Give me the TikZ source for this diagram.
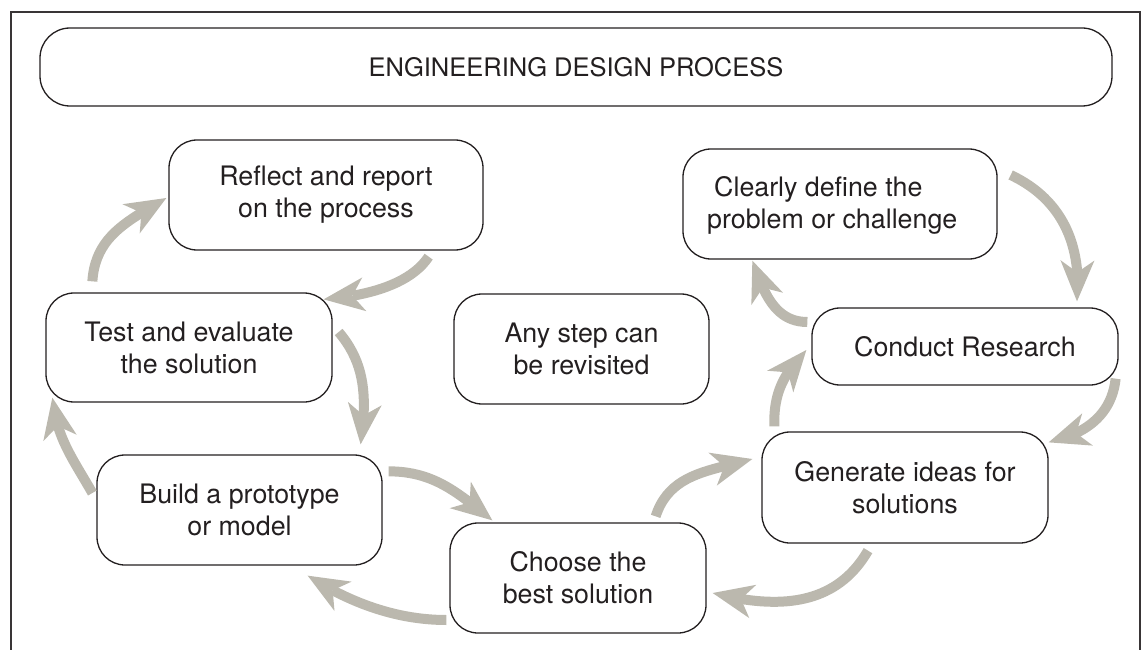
\documentclass[tikz,border=0pt]{standalone}
\usepackage{fontspec}
\setmainfont{TeX Gyre Heros}
\usetikzlibrary{arrows.meta,bending}
\definecolor{flowgray}{RGB}{187,184,174}
\definecolor{ink}{RGB}{35,31,32}
\begin{document}
\begin{tikzpicture}[x=1pt,y=-1pt,
  box/.style={draw=ink, line width=1.3pt, rounded corners=28pt, inner sep=0pt,
    align=center, text=ink, font=\fontsize{26.8}{32}\selectfont},
  txt/.style={inner sep=0pt, text=ink, font=\fontsize{26.8}{32}\selectfont},
  flow/.style={draw=flowgray, line width=10pt,
    -{Stealth[length=41pt,width=34pt,inset=12pt,line width=0pt]}}]
\useasboundingbox (0,0) rectangle (1144,650);
\draw[line width=2.6pt, draw=ink!90] (11,650) -- (11,12) -- (1140,12) -- (1140,650);

\node[box, minimum width=1072pt, minimum height=78pt, rounded corners=30pt, font=\fontsize{25.5}{30}\selectfont] (title) at (576,67) {ENGINEERING DESIGN PROCESS};
\node[box, minimum width=314pt, minimum height=110pt] (reflect) at (326,195) {Reflect and report\\on the process};
\node[box, minimum width=286pt, minimum height=109pt] (test) at (189,347.5) {Test and evaluate\\the solution};
\node[box, minimum width=285pt, minimum height=110pt] (build) at (239.5,510) {Build a prototype\\or model};
\node[box, minimum width=256pt, minimum height=110pt] (choose) at (578,578) {Choose the\\best solution};
\node[box, minimum width=286pt, minimum height=111pt] (generate) at (905,487.5) {Generate ideas for\\solutions};
\node[box, minimum width=306pt, minimum height=77pt] (conduct) at (965,346.5) {Conduct Research};
\node[box, minimum width=314pt, minimum height=110pt] (clearly) at (840,204) {};
\node[txt, anchor=west, align=left] (clearlytxt) at (707,205) {\hspace*{7pt}Clearly define the\\problem or challenge};
\node[box, minimum width=255pt, minimum height=110pt] (anystep) at (581.5,349) {Any step can\\be revisited};

\draw[flow] ([shift={(13,-29)}]clearly.east) .. controls +(51,24) and +(5,-57) .. ([shift={(112,-6)}]conduct.north);
\draw[flow] ([shift={(-3,-7)}]conduct.south east) .. controls +(-4,37) and +(36,-8) .. ([shift={(0,11)}]generate.north east);
\draw[flow] ([shift={(-37,7)}]generate.south) .. controls +(-33,57) and +(63,16) .. ([shift={(6,15)}]choose.east);
\draw[flow] ([shift={(-3,42)}]choose.west) .. controls +(-50,0) and +(42,27) .. ([shift={(-75,10)}]build.south east);
\draw[flow] ([shift={(-4,-17)}]build.west) .. controls +(-20,-35) and +(4,40) .. ([shift={(7,-5)}]test.south west);
\draw[flow] ([shift={(47,-11)}]test.north west) .. controls +(3,-45) and +(-39,23) .. ([shift={(-2,3)}]reflect.west);
\draw[flow] ([shift={(-55,6)}]reflect.south east) .. controls +(-19,29) and +(40,-3) .. ([shift={(-9,7)}]test.north east);
\draw[flow] ([shift={(6,-15.5)}]test.east) .. controls +(28,33) and +(6,-45) .. ([shift={(-22,-10)}]build.north east);
\draw[flow] ([shift={(6,17)}]build.north east) .. controls +(45,0) and +(-35,-28) .. ([shift={(43,-2)}]choose.north west);
\draw[flow] ([shift={(-51,-6)}]choose.north east) .. controls +(14,-43) and +(-43,12) .. ([shift={(-9,-28.5)}]generate.west);
\draw[flow] ([shift={(13,-5)}]generate.north west) .. controls +(-1,-33) and +(-23,24) .. ([shift={(-5,3.5)}]conduct.west);
\draw[flow] ([shift={(-4,-24.5)}]conduct.west) .. controls +(-33,0) and +(11,31) .. ([shift={(70,1)}]clearly.south west);
\end{tikzpicture}
\end{document}
